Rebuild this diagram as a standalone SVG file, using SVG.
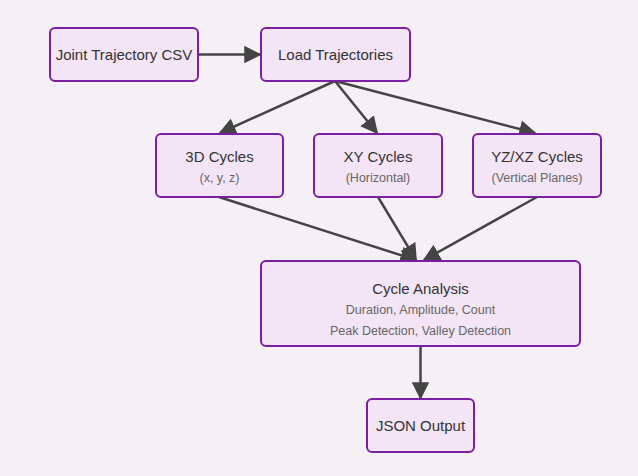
<svg xmlns="http://www.w3.org/2000/svg" width="638" height="476" viewBox="0 0 638 476">
<style>
.node rect{fill:#f3e5f5;stroke:#7b1fa2;stroke-width:2}
.t{font-family:"Liberation Sans",Arial,sans-serif;font-size:15px;fill:#333;text-anchor:middle;dominant-baseline:central}
.s{font-family:"Liberation Sans",Arial,sans-serif;font-size:12.5px;fill:#666;text-anchor:middle;dominant-baseline:central}
.e{stroke:#444;stroke-width:2.5;fill:none;marker-end:url(#ah)}
</style>
<defs>
<marker id="ah" viewBox="0 0 10 10" refX="9" refY="5" markerWidth="7" markerHeight="7" markerUnits="strokeWidth" orient="auto">
<path d="M0,0L10,5L0,10z" fill="#444"/>
</marker>
</defs>
<rect width="638" height="476" fill="#f5f0f6"/>
<g id="edges">
<line class="e" x1="198" y1="54.5" x2="260" y2="54.5"/>
<line class="e" x1="335" y1="81" x2="220" y2="133"/>
<line class="e" x1="335" y1="81" x2="377" y2="133"/>
<line class="e" x1="335" y1="81" x2="535" y2="133"/>
<line class="e" x1="219" y1="197" x2="416" y2="260"/>
<line class="e" x1="378" y1="197" x2="416" y2="260"/>
<line class="e" x1="537" y1="197" x2="424" y2="260"/>
<line class="e" x1="420.5" y1="346" x2="420.5" y2="398"/>
</g>
<g id="csv" class="node"><rect x="50" y="28" width="148" height="53" rx="5"/><text class="t" x="124" y="54.5">Joint Trajectory CSV</text></g>
<g id="load" class="node"><rect x="261" y="28" width="149" height="53" rx="5"/><text class="t" x="335.5" y="54.5">Load Trajectories</text></g>
<g id="c3d" class="node"><rect x="156" y="134" width="127" height="63" rx="5"/><text class="t" x="219.5" y="156">3D Cycles</text><text class="s" x="219.5" y="178">(x, y, z)</text></g>
<g id="cxy" class="node"><rect x="314" y="134" width="128" height="63" rx="5"/><text class="t" x="378" y="156">XY Cycles</text><text class="s" x="378" y="178">(Horizontal)</text></g>
<g id="cyz" class="node"><rect x="473" y="134" width="128" height="63" rx="5"/><text class="t" x="537" y="156">YZ/XZ Cycles</text><text class="s" x="537" y="178">(Vertical Planes)</text></g>
<g id="analysis" class="node"><rect x="261" y="261" width="319" height="85" rx="5"/><text class="t" x="420.5" y="288">Cycle Analysis</text><text class="s" x="420.5" y="309.5">Duration, Amplitude, Count</text><text class="s" x="420.5" y="330.5">Peak Detection, Valley Detection</text></g>
<g id="json" class="node"><rect x="367" y="399" width="107" height="53" rx="5"/><text class="t" x="420.5" y="425.5">JSON Output</text></g>
</svg>
